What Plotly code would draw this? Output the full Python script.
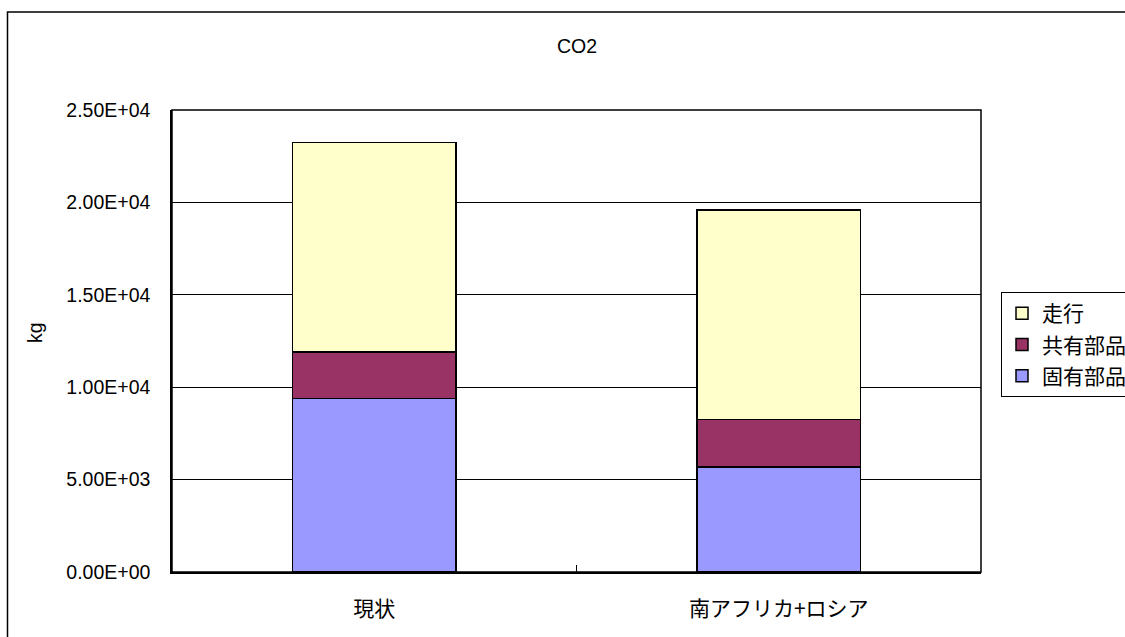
import plotly.graph_objects as go

# Data
categories = ["現状", "南アフリカ+ロシア"]
koyu_buhin = [9380, 5670]      # 固有部品
kyoyu_buhin = [2520, 2590]     # 共有部品
soko = [11330, 11340]          # 走行
y_ticks = [0, 5000, 10000, 15000, 20000, 25000]
y_tick_labels = ["0.00E+00", "5.00E+03", "1.00E+04", "1.50E+04", "2.00E+04", "2.50E+04"]

W, H = 1125, 637
L, R, T, B = 172, 144, 110, 65
plot_w = W - L - R
plot_h = H - T - B

JP = "Noto Sans CJK JP"
LAT = "Liberation Sans"
LAT_SIZE = 19.5
JP_SIZE = 21

fig = go.Figure()
# stacked bottom-to-top; legend lists them top-to-bottom
series = [
    ("固有部品", koyu_buhin, "#9999FF", 3),
    ("共有部品", kyoyu_buhin, "#993366", 2),
    ("走行", soko, "#FFFFCC", 1),
]
for name, vals, color, rank in series:
    fig.add_trace(go.Bar(
        x=categories, y=vals, name=name, legendgroup=name, legendrank=rank,
        marker=dict(color=color, line=dict(color="black", width=1.5)),
        width=0.405,
    ))


def px_x(px):
    return (px - L) / plot_w


def px_y(py):
    return (H - B - py) / plot_h


fig.update_layout(
    width=W, height=H,
    margin=dict(l=L, r=R, t=T, b=B, autoexpand=False),
    barmode="stack",
    paper_bgcolor="white",
    plot_bgcolor="white",
    font=dict(family=LAT, size=LAT_SIZE, color="black"),
    title=dict(text="CO2", x=px_x(577), xref="paper", xanchor="center",
               y=1 - 46 / H, yanchor="middle",
               font=dict(family=LAT, size=LAT_SIZE, color="black")),
    showlegend=True,
    legend=dict(
        xref="container", yref="container",
        x=1001 / W, xanchor="left",
        y=1 - 292 / H, yanchor="top",
        traceorder="grouped",
        bordercolor="black", borderwidth=1,
        bgcolor="white",
        font=dict(family=JP, size=JP_SIZE, color="black"),
        itemwidth=30,
        tracegroupgap=1,
    ),
    xaxis=dict(
        showline=True, linecolor="black", linewidth=1.5,
        ticks="inside", ticklen=7, tickcolor="black",
        tickson="boundaries",
        tickfont=dict(family=JP, size=JP_SIZE, color="black"),
        ticklabelstandoff=17,
        showgrid=False, mirror=False,
    ),
    yaxis=dict(
        range=[0, 25000],
        tickvals=y_ticks, ticktext=y_tick_labels,
        showline=True, linecolor="black", linewidth=1.5,
        showgrid=True, gridcolor="black", gridwidth=1,
        ticks="", ticklabelstandoff=16,
        tickfont=dict(family=LAT, size=LAT_SIZE, color="black"),
        zeroline=False,
    ),
)

# plot-area frame (top and right edges)
fig.add_shape(type="rect", xref="paper", yref="paper", x0=0, x1=1, y0=0, y1=1,
              line=dict(color="black", width=1.5), layer="above")
# chart-area frame
fig.add_shape(type="rect", xref="paper", yref="paper",
              x0=px_x(7.5), x1=px_x(1135), y0=px_y(647), y1=px_y(12),
              line=dict(color="black", width=1.5))

fig.add_annotation(text="kg", xref="paper", yref="paper",
                   x=px_x(35), y=px_y(333), textangle=-90,
                   showarrow=False, xanchor="center", yanchor="middle",
                   font=dict(family=LAT, size=LAT_SIZE, color="black"))

fig.write_html("out.html")
